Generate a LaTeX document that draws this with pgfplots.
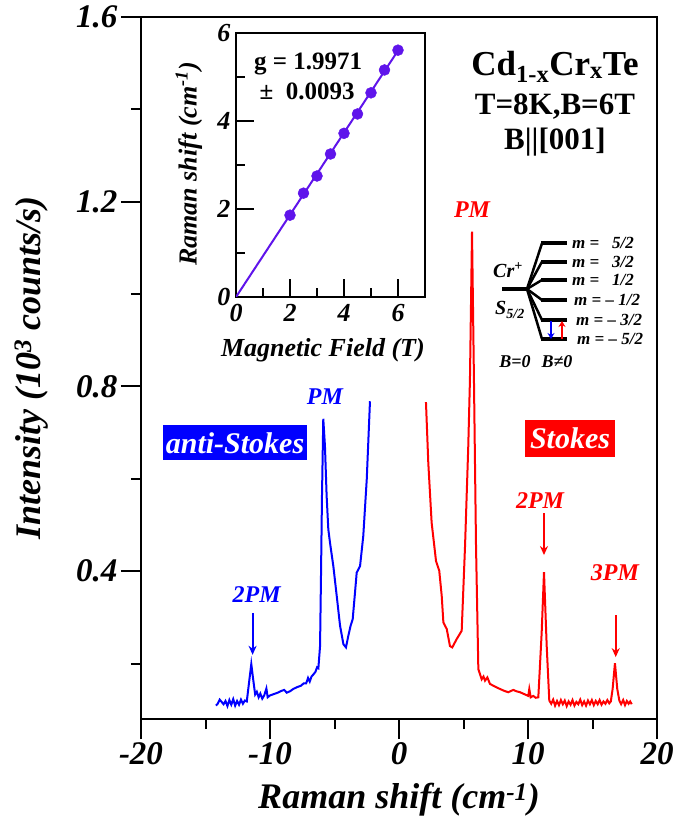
\documentclass[border=0pt]{standalone}
\usepackage{fontspec}
\setmainfont{Liberation Serif}
\usepackage{pgfplots}
\pgfplotsset{compat=1.18}
\usepackage{pgfplotstable}
\usetikzlibrary{arrows.meta}

\definecolor{asblue}{RGB}{0,0,255}
\definecolor{sred}{RGB}{255,0,0}
\definecolor{fitpurple}{RGB}{95,20,235}

\newcommand{\bi}[1]{\fontsize{#1bp}{#1bp}\selectfont\bfseries\itshape}
\newcommand{\bu}[1]{\fontsize{#1bp}{#1bp}\selectfont\bfseries}

% anti-Stokes spectrum (blue)
\pgfplotstableread{
x y
-14.19 0.109
-14.05 0.113
-13.90 0.122
-13.75 0.117
-13.60 0.112
-13.45 0.119
-13.30 0.108
-13.15 0.121
-13.00 0.111
-12.85 0.123
-12.70 0.109
-12.55 0.119
-12.40 0.111
-12.25 0.122
-12.10 0.113
-11.95 0.120
-11.80 0.118
-11.62 0.160
-11.45 0.199
-11.30 0.165
-11.15 0.133
-11.02 0.139
-10.88 0.127
-10.75 0.135
-10.60 0.124
-10.45 0.131
-10.28 0.146
-10.18 0.127
-10.00 0.131
-9.70 0.134
-9.40 0.137
-9.10 0.141
-8.90 0.143
-8.70 0.137
-8.45 0.140
-8.20 0.145
-7.90 0.149
-7.60 0.152
-7.40 0.157
-7.20 0.157
-7.05 0.169
-6.92 0.161
-6.78 0.172
-6.62 0.177
-6.48 0.182
-6.35 0.192
-6.25 0.190
-6.12 0.238
-6.05 0.383
-5.97 0.563
-5.87 0.730
-5.74 0.671
-5.61 0.563
-5.48 0.491
-5.35 0.462
-5.09 0.411
-4.83 0.347
-4.57 0.282
-4.31 0.242
-4.11 0.235
-3.93 0.260
-3.75 0.282
-3.59 0.296
-3.41 0.354
-3.28 0.397
-3.02 0.411
-2.77 0.476
-2.50 0.599
-2.25 0.768
}\antistokes

% Stokes spectrum (red)
\pgfplotstableread{
x y
2.09 0.766
2.27 0.635
2.53 0.505
2.87 0.422
3.12 0.401
3.31 0.347
3.44 0.289
3.70 0.275
3.95 0.238
4.13 0.235
4.47 0.253
4.86 0.271
5.12 0.455
5.37 0.671
5.50 0.815
5.66 1.135
5.81 0.815
5.97 0.455
6.15 0.188
6.41 0.166
6.55 0.172
6.67 0.163
6.85 0.170
7.05 0.156
7.45 0.150
7.83 0.145
8.15 0.141
8.47 0.138
8.86 0.143
9.10 0.140
9.38 0.138
9.70 0.134
10.02 0.130
10.10 0.145
10.21 0.127
10.41 0.130
10.60 0.126
10.80 0.127
11.06 0.267
11.24 0.398
11.45 0.238
11.65 0.120
11.80 0.113
11.95 0.122
12.10 0.109
12.25 0.119
12.40 0.110
12.55 0.121
12.70 0.112
12.85 0.120
13.00 0.108
13.15 0.118
13.30 0.111
13.45 0.121
13.60 0.109
13.75 0.117
13.90 0.112
14.05 0.122
14.20 0.110
14.35 0.118
14.50 0.109
14.65 0.120
14.80 0.112
14.95 0.121
15.10 0.110
15.25 0.119
15.40 0.112
15.55 0.121
15.70 0.111
15.85 0.118
16.00 0.113
16.15 0.121
16.30 0.114
16.42 0.118
16.56 0.145
16.74 0.201
16.92 0.145
17.08 0.120
17.22 0.112
17.38 0.121
17.52 0.110
17.66 0.119
17.80 0.113
17.92 0.118
18.04 0.112
}\stokes

% Zeeman shift versus field
\pgfplotstableread{
B shift
2.0 1.86
2.5 2.36
3.0 2.75
3.5 3.25
4.0 3.72
4.5 4.16
5.0 4.64
5.5 5.16
6.0 5.61
}\zeeman

\begin{document}
\begin{tikzpicture}
\useasboundingbox (0,0) rectangle (694bp,831bp);

\begin{axis}[
  at={(141bp,112bp)}, anchor=south west,
  scale only axis, width=516bp, height=702bp,
  xmin=-20, xmax=20, ymin=0.08, ymax=1.6,
  xtick={-20,-10,0,10,20}, xticklabels={-20,-10,0,10,20},
  minor xtick={-15,-5,5,15},
  ytick={0.4,0.8,1.2,1.6}, yticklabels={0.4,0.8,1.2,1.6},
  minor ytick={0.2,0.6,1.0,1.4},
  tick align=outside, xtick pos=bottom, ytick pos=left,
  major tick length=20bp, minor tick length=10bp,
  axis line style={line width=2.5bp},
  every tick/.append style={line width=2bp, black},
  every minor tick/.append style={line width=2bp, black},
  ticklabel style={font=\bi{33}},
  xlabel={Raman shift (cm\textsuperscript{-1})},
  ylabel={Intensity (10\textsuperscript{3} counts/s)},
  label style={font=\bi{36}},
  xlabel style={at={(axis description cs:0.5,-0.1154)}, anchor=center},
  ylabel style={at={(axis description cs:-0.213,0.5)}, anchor=center},
  clip=false,
]
\addplot[asblue, line width=2bp] table[x=x, y=y] {\antistokes};
\addplot[sred, line width=2bp] table[x=x, y=y] {\stokes};

% peak labels
\node[asblue, font=\bi{24}] at (axis cs:-5.74,0.777) {PM};
\node[asblue, font=\bi{24}] at (axis cs:-11.03,0.349) {2PM};
\draw[asblue, line width=2bp, -{Stealth[length=9bp,width=8bp]}] (axis cs:-11.35,0.310) -- (axis cs:-11.35,0.219);
\node[sred, font=\bi{24}] at (axis cs:5.66,1.182) {PM};
\node[sred, font=\bi{24}] at (axis cs:10.93,0.554) {2PM};
\draw[sred, line width=2bp, -{Stealth[length=9bp,width=8bp]}] (axis cs:11.24,0.526) -- (axis cs:11.24,0.435);
\node[sred, font=\bi{24}] at (axis cs:16.74,0.396) {3PM};
\draw[sred, line width=2bp, -{Stealth[length=9bp,width=8bp]}] (axis cs:16.80,0.305) -- (axis cs:16.80,0.214);

% branch tags
\node[fill=asblue, text=white, font=\bi{30}, inner xsep=3bp, inner ysep=0bp, minimum height=35bp] at (axis cs:-12.71,0.678) {anti-Stokes};
\node[fill=sred, text=white, font=\bi{30}, inner xsep=5bp, inner ysep=0bp, minimum height=37bp] at (axis cs:13.26,0.688) {Stokes};

% sample and conditions
\node[font=\bu{35}] at (axis cs:12.09,1.492) {Cd\textsubscript{1-x}Cr\textsubscript{x}Te};
\node[font=\bu{31}] at (axis cs:12.09,1.405) {T=8K,B=6T};
\node[font=\bu{31}] at (axis cs:12.09,1.330) {B||[001]};
\end{axis}

% inset: Zeeman splitting versus magnetic field
\begin{axis}[
  at={(236bp,534bp)}, anchor=south west,
  scale only axis, width=189bp, height=264bp,
  xmin=0, xmax=7, ymin=0, ymax=6,
  xtick={0,2,4,6}, xticklabels={0,2,4,6}, minor xtick={1,3,5},
  ytick={0,2,4,6}, yticklabels={0,2,4,6}, minor ytick={1,3,5},
  tick align=inside, xtick pos=bottom, ytick pos=left,
  major tick length=18bp, minor tick length=9bp,
  axis line style={line width=2bp},
  every tick/.append style={line width=2bp, black},
  every minor tick/.append style={line width=2bp, black},
  axis background/.style={fill=white},
  ticklabel style={font=\bi{26}},
  xticklabel style={yshift=-4bp},
  yticklabel style={xshift=-2bp},
  xlabel={Magnetic Field (T)},
  ylabel={Raman shift (cm\textsuperscript{-1})},
  label style={font=\bi{26}},
  xlabel style={at={(axis description cs:0.46,-0.20)}, anchor=center},
  ylabel style={at={(axis description cs:-0.249,0.504)}, anchor=center},
]
\addplot[fitpurple, line width=2bp] coordinates {(0,0) (6.0,5.60)};
\addplot[fitpurple, only marks, mark=*, mark size=5.5bp, mark options={fill=fitpurple, draw=fitpurple}] table[x=B, y=shift] {\zeeman};
\node[font=\bu{25}] at (axis cs:2.67,5.30) {g = 1.9971};
\node[font=\bu{25}] at (axis cs:2.63,4.68) {±\ \ 0.0093};
\end{axis}

% Cr+ level scheme
\begin{scope}[shift={(0bp,831bp)}, x=1bp, y=-1bp]
\draw[line width=3.5bp] (502,289) -- (527,289);
\foreach \L in {243.3,261.7,280,300,320,339} {
  \draw[line width=2.5bp] (527,289) -- (542,\L);
  \draw[line width=4bp] (541,\L) -- (567,\L);
}
\node[anchor=west, font=\bi{17}, inner sep=0pt] at (572,243.3) {m =\ \ \ 5/2};
\node[anchor=west, font=\bi{17}, inner sep=0pt] at (572,261.7) {m =\ \ \ 3/2};
\node[anchor=west, font=\bi{17}, inner sep=0pt] at (572,280) {m =\ \ \ 1/2};
\node[anchor=west, font=\bi{17}, inner sep=0pt] at (574,300) {m = – 1/2};
\node[anchor=west, font=\bi{17}, inner sep=0pt] at (576,320) {m = – 3/2};
\node[anchor=west, font=\bi{17}, inner sep=0pt] at (577,339) {m = – 5/2};
\node[font=\bi{20}] at (508,270) {Cr\textsuperscript{+}};
\node[font=\bi{20}] at (510,310) {S\textsubscript{5/2}};
\node[font=\bi{18}] at (515,362) {B=0};
\node[font=\bi{18}] at (557,362) {B≠0};
\draw[asblue, line width=2.5bp, -{Stealth[length=6bp,width=7bp]}] (551,321) -- (551,339);
\draw[sred, line width=2.5bp, -{Stealth[length=6bp,width=7bp]}] (562,339) -- (562,321);
\end{scope}
\end{tikzpicture}
\end{document}
